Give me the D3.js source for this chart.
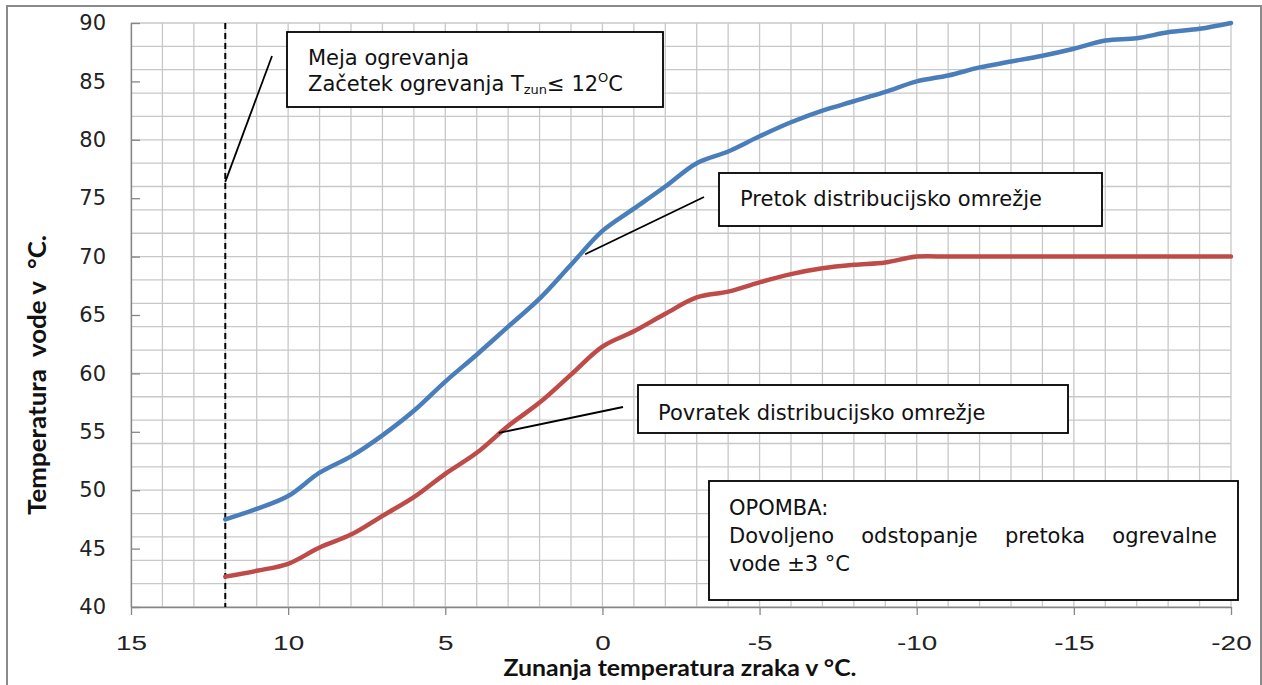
<!DOCTYPE html>
<html><head><meta charset="utf-8">
<script src="https://cdn.jsdelivr.net/npm/d3@7"></script>
<style>body{margin:0;background:#fff} svg{display:block} .pre{white-space:pre}</style>
</head><body>
<svg id="c" width="1262" height="685"></svg>
<script>
// ---- data ----
const outdoorTemps = [12,11,10,9,8,7,6,5,4,3,2,1,0,-1,-2,-3,-4,-5,-6,-7,-8,-9,-10,-11,-12,-13,-14,-15,-16,-17,-18,-19,-20];
const flowTemps   = [47.5,48.4,49.5,51.5,52.9,54.7,56.8,59.3,61.6,64.0,66.4,69.3,72.2,74.1,76.0,78.0,79.0,80.3,81.5,82.5,83.3,84.1,85.0,85.5,86.2,86.7,87.2,87.8,88.5,88.7,89.2,89.5,90.0];
const returnTemps = [42.6,43.1,43.7,45.1,46.2,47.8,49.4,51.4,53.2,55.5,57.5,59.9,62.3,63.6,65.1,66.5,67.0,67.8,68.5,69.0,69.3,69.5,70.0,70.0,70.0,70.0,70.0,70.0,70.0,70.0,70.0,70.0,70.0];
const xTicks = [15,10,5,0,-5,-10,-15,-20];
const yTicks = [40,45,50,55,60,65,70,75,80,85,90];
const heatingLimit = 12;
const xTitle = "Zunanja temperatura zraka v °C.";
const yTitle = "Temperatura  vode v  °C.";

const svg = d3.select("#c");
const L = 131, R = 1231, T = 23, B = 607;
const x = d3.scaleLinear().domain([15,-20]).range([L,R]);
const y = d3.scaleLinear().domain([40,90]).range([B,T]);

// outer frame
svg.append("rect").attr("x",7).attr("y",6).attr("width",1254).attr("height",700)
  .attr("fill","#fff").attr("stroke","#8a8a8a").attr("stroke-width",2);

// grid
const grid = svg.append("g").attr("stroke","#c8c8c8").attr("stroke-width",1.3);
grid.selectAll(".v").data(d3.range(-20,16,1)).join("line")
  .attr("x1",d=>x(d)).attr("x2",d=>x(d)).attr("y1",T).attr("y2",B);
grid.selectAll(".h").data(d3.range(40,91,2)).join("line")
  .attr("x1",L).attr("x2",R).attr("y1",d=>y(d)).attr("y2",d=>y(d));

// axes
const ya = svg.append("g").attr("transform",`translate(${L},0)`)
  .call(d3.axisLeft(y).tickValues(yTicks).tickSizeInner(-9).tickSizeOuter(0).tickPadding(25).tickFormat(d=>String(d)));
ya.selectAll("text").attr("font-family","'DejaVu Sans', Verdana, sans-serif").attr("font-size",21).attr("fill","#222");
ya.selectAll("line,path").attr("stroke","#868686").attr("stroke-width",1.3);

const xa = svg.append("g").attr("transform",`translate(0,${B})`)
  .call(d3.axisBottom(x).tickValues(xTicks).tickSizeInner(8).tickSizeOuter(0).tickPadding(20).tickFormat(d=>String(d)));
xa.selectAll("text").attr("font-family","'Liberation Sans', Arial, sans-serif").attr("font-size",21).attr("fill","#222")
  .attr("transform","scale(1.33,1)");
xa.selectAll("line,path").attr("stroke","#868686").attr("stroke-width",1.3);

// heating limit dashed line
svg.append("line").attr("x1",x(heatingLimit)).attr("x2",x(heatingLimit)).attr("y1",T).attr("y2",B)
  .attr("stroke","#000").attr("stroke-width",2).attr("stroke-dasharray","6,4");

// series
const line = d3.line().x((d,i)=>x(outdoorTemps[i])).y(d=>y(d)).curve(d3.curveCatmullRom.alpha(0.5));
svg.append("path").datum(flowTemps).attr("d",line).attr("fill","none").attr("stroke","#4a7ebb").attr("stroke-width",4.5).attr("stroke-linecap","round");
svg.append("path").datum(returnTemps).attr("d",line).attr("fill","none").attr("stroke","#be4b48").attr("stroke-width",4.5).attr("stroke-linecap","round");

// axis titles
svg.append("text").attr("x",680).attr("y",676).attr("text-anchor","middle")
  .attr("font-family","Lato, 'Open Sans', sans-serif").attr("font-weight",700).attr("font-size",22)
  .attr("textLength",353).attr("lengthAdjust","spacingAndGlyphs").attr("fill","#111").text(xTitle);
svg.append("text").attr("class","pre").attr("transform","translate(46,375) rotate(-90)").attr("text-anchor","middle")
  .attr("font-family","Lato, 'Open Sans', sans-serif").attr("font-weight",700).attr("font-size",24)
  .attr("textLength",280).attr("lengthAdjust","spacingAndGlyphs").attr("fill","#111").text(yTitle);

// annotations
const F = "'DejaVu Sans', Verdana, sans-serif";
function leader(x1,y1,x2,y2){
  svg.append("line").attr("x1",x1).attr("y1",y1).attr("x2",x2).attr("y2",y2).attr("stroke","#000").attr("stroke-width",1.8);
}
function box(x0,y0,w,h){
  svg.append("rect").attr("x",x0).attr("y",y0).attr("width",w).attr("height",h)
    .attr("fill","#fff").attr("stroke","#000").attr("stroke-width",1.8);
}
function txt(xx,yy,s){
  return svg.append("text").attr("x",xx).attr("y",yy).attr("font-family",F).attr("font-size",21).attr("fill","#111").text(s);
}

leader(272,56,x(heatingLimit),y(76.4));
box(287,32,376,75);
txt(308,65,"Meja ogrevanja");
const t2 = svg.append("text").attr("x",308).attr("y",91).attr("font-family",F).attr("font-size",21).attr("fill","#111");
t2.append("tspan").text("Začetek ogrevanja T");
t2.append("tspan").attr("font-size",13).attr("dy",3).text("zun");
t2.append("tspan").attr("dy",-3).text("≤ 12");
t2.append("tspan").attr("font-size",13).attr("dy",-9).text("O");
t2.append("tspan").attr("dy",9).text("C");

leader(704,197,x(0.55),y(70.2));
box(719,173,383,53);
txt(740,206,"Pretok distribucijsko omrežje");

leader(623,407,x(3.3),y(54.9));
box(638,385,430,48);
txt(658,420,"Povratek distribucijsko omrežje");

box(709,481,529,119);
txt(729,515,"OPOMBA:");
const words = ["Dovoljeno","odstopanje","pretoka","ogrevalne"];
const ws = words.map(w=>txt(0,543,w));
const lens = ws.map(n=>n.node().getComputedTextLength());
const gap = (1217-729-d3.sum(lens))/(words.length-1);
let cx = 729;
ws.forEach((n,i)=>{ n.attr("x",cx); cx += lens[i]+gap; });
txt(729,571,"vode ±3 °C");
</script>
</body></html>
